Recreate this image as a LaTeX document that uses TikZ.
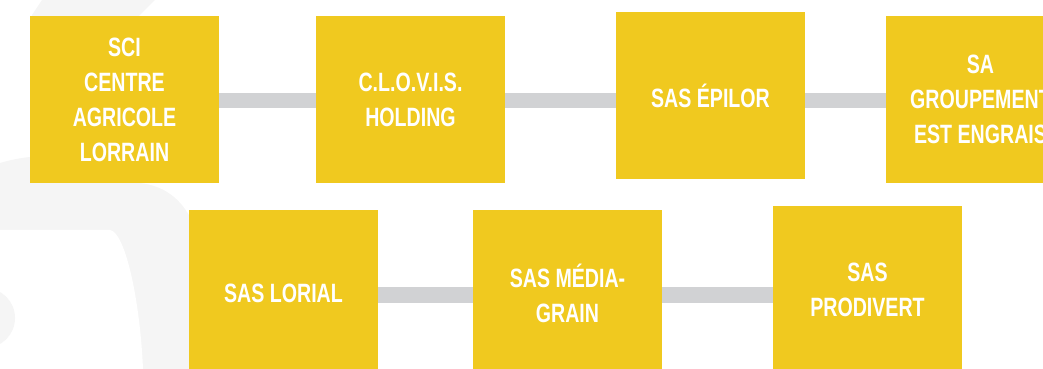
\documentclass[tikz,border=0pt]{standalone}
\usepackage{fontspec}
\setmainfont{Liberation Sans}[FakeStretch=0.74,BoldFont={Liberation Sans Bold}]
\definecolor{boxyellow}{HTML}{F0C91F}
\definecolor{connGray}{HTML}{D1D2D4}
\definecolor{markGray}{HTML}{F5F5F5}
\begin{document}
\begin{tikzpicture}[x=1pt,y=1pt,
  entity/.style={fill=boxyellow, draw=none, minimum width=189pt, minimum height=167pt,
    inner sep=0pt, text=white, align=center, font=\fontsize{26.5}{35}\selectfont\bfseries},
  conn/.style={draw=connGray, line width=15.5pt}]
\useasboundingbox (0,0) rectangle (1043,369);
\clip (0,0) rectangle (1043,369);
% faint watermark
\fill[markGray] (42,369) -- (155,369) -- (135,349) -- (140,186)
  .. controls (165,183) and (180,170) .. (190,152)
  -- (260,0) -- (0,0) -- (0,206) .. controls (10,209) and (20,211) .. (30,212) -- (32,354) -- cycle;
\fill[white] (0,139) -- (110,139) .. controls (125,137) and (140,70) .. (143,0) -- (0,0) -- cycle;
\fill[markGray] (-15,51) circle (30);
% boxes
\node[entity] (sci) at (124.5,269.5) {SCI\\CENTRE\\AGRICOLE\\LORRAIN};
\node[entity] (clovis) at (410.5,269.5) {C.L.O.V.I.S.\\HOLDING};
\node[entity] (epilor) at (710.5,273.5) {SAS ÉPILOR};
\node[entity] (groupement) at (980.5,269.5) {SA\\GROUPEMENT\\EST ENGRAIS};
\node[entity] (lorial) at (283.5,75.5) {SAS LORIAL};
\node[entity] (media) at (567.5,75.5) {SAS MÉDIA-\\GRAIN};
\node[entity] (prodivert) at (867.5,79.5) {SAS\\PRODIVERT};
% connectors
\draw[conn] (sci.east |- 0,268.5) -- (clovis.west |- 0,268.5);
\draw[conn] (clovis.east |- 0,268.5) -- (epilor.west |- 0,268.5);
\draw[conn] (epilor.east |- 0,268.5) -- (groupement.west |- 0,268.5);
\draw[conn] (lorial.east |- 0,74) -- (media.west |- 0,74);
\draw[conn] (media.east |- 0,74) -- (prodivert.west |- 0,74);
\end{tikzpicture}
\end{document}
